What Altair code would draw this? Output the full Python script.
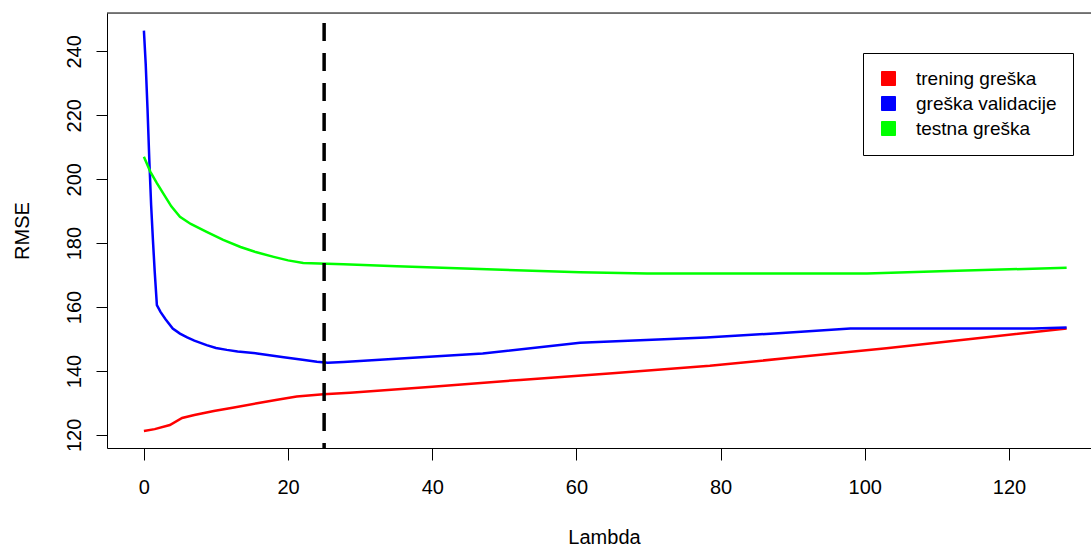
import altair as alt
import pandas as pd

# ---------------- data ----------------
series_names = ["trening greška", "greška validacije", "testna greška"]
series_colors = ["#FF0000", "#0000FF", "#00FF00"]

lam_train = [0, 1.5, 3.6, 5.3, 7, 9.7, 12.5, 15.7, 18.5, 21.2, 24.9, 28.6, 40, 52.2, 65, 78.5, 90, 103, 115, 128]
rmse_train = [121.2, 121.8, 123.1, 125.3, 126.2, 127.5, 128.6, 129.9, 131.0, 132.0, 132.7, 133.2, 135.1,
              137.2, 139.3, 141.6, 144.2, 147.1, 150.1, 153.3]

lam_valid = [0, 0.25, 0.5, 0.75, 1.0, 1.25, 1.5, 1.8, 2.3, 3, 4, 5, 6, 7, 8.7, 10, 11.5, 13, 15.7, 19.4,
             22, 24, 25.5, 27.7, 35, 47, 60.5, 78, 88, 98, 110, 123.4, 128]
rmse_valid = [246.5, 236, 222, 206, 192, 181, 171, 160.6, 158.5, 156.2, 153.3, 151.7, 150.5, 149.5, 148.1,
              147.2, 146.6, 146.1, 145.5, 144.3, 143.5, 142.9, 142.6, 142.8, 143.8, 145.5, 148.8, 150.5,
              151.8, 153.3, 153.3, 153.3, 153.6]

lam_test = [0, 0.9, 1.8, 2.7, 3.8, 5, 6.5, 8.7, 11, 13.4, 15.5, 18, 20, 22.1, 27.7, 35.1, 47.6, 60.5,
            69.8, 78, 100.3, 110.4, 128]
rmse_test = [207, 202.3, 198.8, 195.5, 191.5, 188.2, 186.0, 183.5, 181.0, 178.8, 177.2, 175.7, 174.6,
             173.8, 173.4, 172.8, 171.8, 170.9, 170.5, 170.5, 170.5, 171.2, 172.3]

best_lambda = [25]

x_ticks = [0, 20, 40, 60, 80, 100, 120]
y_ticks = [120, 140, 160, 180, 200, 220, 240]

rows = []
for name, lams, vals in zip(series_names, [lam_train, lam_valid, lam_test],
                            [rmse_train, rmse_valid, rmse_test]):
    for i, (l, v) in enumerate(zip(lams, vals)):
        rows.append({"series": name, "lambda": l, "rmse": v, "order": i})
df = pd.DataFrame(rows)

# ---------------- style ----------------
FONT = "Liberation Sans"
W, H = 984, 435

xscale = alt.Scale(domain=[-5.12, 131.38], nice=False, zero=False)
yscale = alt.Scale(domain=[115.9, 252.0], nice=False, zero=False)
cscale = alt.Scale(domain=series_names, range=series_colors)

x_axis = alt.Axis(values=x_ticks, grid=False, tickSize=12, tickColor="black", domainColor="black",
                  labelFont=FONT, labelFontSize=20, labelColor="black", labelBaseline="alphabetic",
                  labelPadding=33, labelFlush=False, labelOverlap=False,
                  title="Lambda", titleFont=FONT, titleFontSize=20, titleFontWeight="normal",
                  titleColor="black", titleX=497, titleY=95, titleBaseline="alphabetic",
                  titleAlign="center")
y_axis = alt.Axis(values=y_ticks, grid=False, tickSize=11, tickColor="black", domainColor="black",
                  labelFont=FONT, labelFontSize=20, labelColor="black", labelAngle=270,
                  labelAlign="center", labelBaseline="alphabetic", labelPadding=16,
                  labelFlush=False, labelOverlap=False,
                  title="RMSE", titleFont=FONT, titleFontSize=20, titleFontWeight="normal",
                  titleColor="black", titleAngle=270, titleX=-85, titleY=H / 2,
                  titleAlign="center", titleBaseline="middle")

legend = alt.Legend(title=None, orient="none", legendX=756, legendY=40, direction="vertical",
                    symbolType="square", symbolSize=196, symbolStrokeColor="black",
                    symbolStrokeWidth=1, symbolOpacity=1, labelFont=FONT, labelFontSize=19,
                    labelColor="black", labelOffset=18, padding=16, strokeColor="black",
                    fillColor="white", rowPadding=5, labelLimit=400)

legend_layer = alt.Chart(pd.DataFrame({"series": series_names})).mark_square(
    filled=True, size=0, clip=True, opacity=1, stroke="black", strokeWidth=1
).encode(
    x=alt.value(-300), y=alt.value(-300),
    color=alt.Color("series:N", scale=cscale, sort=series_names, legend=legend),
)

lines = alt.Chart(df).mark_line(strokeWidth=2.5, clip=True).encode(
    x=alt.X("lambda:Q", scale=xscale, axis=x_axis),
    y=alt.Y("rmse:Q", scale=yscale, axis=y_axis),
    color=alt.Color("series:N", scale=cscale, sort=series_names, legend=None),
    order="order:Q",
    detail="series:N",
)

vline = alt.Chart(pd.DataFrame({"lam": best_lambda})).mark_rule(
    color="black", strokeWidth=3.5, strokeDash=[18, 12], strokeDashOffset=20
).encode(x=alt.X("lam:Q", scale=xscale))

top_border = alt.Chart(pd.DataFrame({"a": [0]})).mark_rule(color="black", strokeWidth=1).encode(
    x=alt.value(0), x2=alt.value(W), y=alt.value(0)
)

chart = alt.layer(legend_layer, lines, vline, top_border).properties(
    width=W, height=H,
    autosize=alt.AutoSizeParams(type="none"),
    padding={"left": 107, "top": 13, "right": 0, "bottom": 99},
).configure_view(stroke=None).configure(background="white")

chart.save("out.html", embed_options={"renderer": "svg", "actions": False})
